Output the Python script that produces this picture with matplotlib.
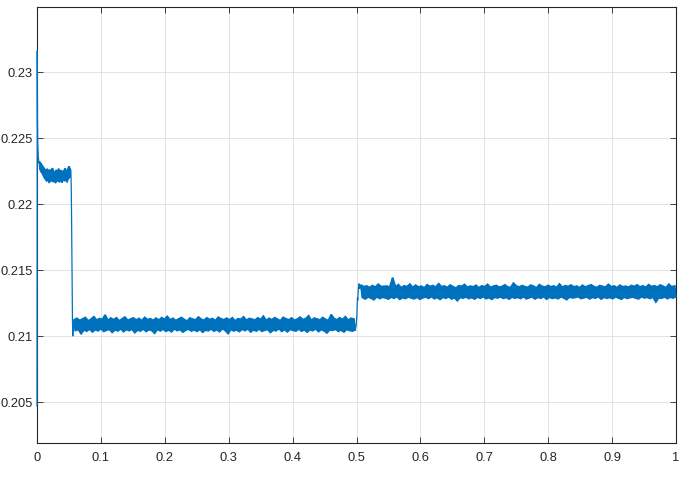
import numpy as np
import matplotlib
matplotlib.use("Agg")
import matplotlib.pyplot as plt

# ---------------- data (values in units of 1e-5) ----------------
t_start = [0.0, 0.0004, 0.0008, 0.0012, 0.0016, 0.0020, 0.0025, 0.0030]
y_start = [20470, 23160, 22620, 22460, 22400, 22360, 22330, 22310]

# first plateau, t = 0.004 .. 0.052 (alternating upper / lower noise extremes)
y_seg_a = [22318, 22262, 22305, 22241, 22290, 22228, 22276, 22205, 22262, 22190,
           22248, 22176, 22264, 22183, 22241, 22165, 22258, 22172, 22237, 22191,
           22270, 22168, 22245, 22182, 22231, 22160, 22252, 22189, 22240, 22174,
           22266, 22170, 22228, 22185, 22255, 22163, 22238, 22192, 22247, 22178,
           22269, 22181, 22236, 22170, 22258, 22195, 22283, 22201, 22262]

# drop near t = 0.055
t_drop = [0.0530, 0.0535, 0.0540, 0.0545, 0.0550, 0.0555, 0.0560, 0.0565, 0.0570]
y_drop = [22250, 22150, 21950, 21650, 21350, 21120, 21000, 21060, 21040]

# second plateau, t = 0.058 .. 0.498
y_seg_b = [21121, 21042, 21133, 21050, 21117, 21018, 21128, 21046, 21139, 21037,
           21114, 21053, 21126, 21031, 21145, 21048, 21119, 21040, 21131, 21056,
           21124, 21035, 21158, 21044, 21116, 21051, 21135, 21028, 21122, 21047,
           21137, 21039, 21113, 21055, 21129, 21033, 21142, 21049, 21118, 21041,
           21127, 21052, 21136, 21026, 21120, 21045, 21132, 21038, 21115, 21054,
           21140, 21034, 21123, 21048, 21130, 21043, 21117, 21021, 21134, 21050,
           21119, 21039, 21138, 21052, 21125, 21036, 21147, 21046, 21121, 21032,
           21133, 21055, 21116, 21041, 21128, 21049, 21139, 21030, 21124, 21044,
           21112, 21053, 21135, 21038, 21127, 21047, 21120, 21035, 21143, 21051,
           21126, 21029, 21118, 21045, 21136, 21040, 21123, 21054, 21131, 21037,
           21115, 21048, 21141, 21033, 21129, 21056, 21122, 21042, 21134, 21019,
           21120, 21050, 21137, 21039, 21113, 21046, 21130, 21034, 21125, 21052,
           21144, 21041, 21118, 21055, 21132, 21031, 21127, 21047, 21119, 21038,
           21136, 21053, 21124, 21036, 21149, 21044, 21116, 21050, 21133, 21027,
           21122, 21045, 21138, 21040, 21126, 21057, 21114, 21035, 21140, 21049,
           21129, 21032, 21121, 21051, 21135, 21043, 21118, 21038, 21127, 21054,
           21142, 21037, 21123, 21046, 21131, 21030, 21152, 21048, 21117, 21041,
           21134, 21055, 21128, 21034, 21120, 21049, 21139, 21039, 21125, 21024,
           21116, 21047, 21161, 21043, 21132, 21052, 21121, 21036, 21137, 21045,
           21124, 21031, 21145, 21050, 21119, 21042, 21133, 21038, 21128, 21046]

# step up near t = 0.5
t_rise = [0.4995, 0.5005, 0.5010, 0.5015, 0.5020, 0.5025, 0.5030, 0.5040, 0.5050, 0.5060]
y_rise = [21080, 21150, 21230, 21290, 21270, 21330, 21370, 21395, 21360, 21385]

# third plateau, t = 0.507 .. 1.0
y_seg_c = [21385, 21292, 21372, 21281, 21378, 21296, 21366, 21287, 21381, 21275,
           21369, 21298, 21391, 21284, 21374, 21293, 21375, 21289, 21377, 21280,
           21368, 21295, 21440, 21286, 21371, 21299, 21388, 21278, 21365, 21291,
           21379, 21284, 21373, 21297, 21392, 21288, 21367, 21282, 21384, 21294,
           21370, 21279, 21376, 21290, 21363, 21296, 21387, 21285, 21374, 21299,
           21381, 21283, 21369, 21292, 21395, 21277, 21372, 21294, 21378, 21286,
           21366, 21298, 21385, 21281, 21373, 21290, 21362, 21268, 21380, 21293,
           21375, 21287, 21389, 21296, 21368, 21284, 21377, 21292, 21371, 21280,
           21383, 21295, 21364, 21286, 21379, 21299, 21372, 21283, 21390, 21291,
           21367, 21278, 21376, 21294, 21382, 21288, 21369, 21297, 21374, 21285,
           21386, 21292, 21371, 21280, 21365, 21295, 21399, 21287, 21378, 21293,
           21370, 21284, 21381, 21298, 21373, 21282, 21367, 21290, 21384, 21296,
           21376, 21281, 21363, 21293, 21388, 21286, 21375, 21299, 21369, 21279,
           21382, 21294, 21372, 21285, 21378, 21291, 21366, 21283, 21393, 21297,
           21368, 21288, 21380, 21276, 21374, 21295, 21385, 21289, 21371, 21292,
           21377, 21298, 21364, 21284, 21383, 21290, 21370, 21296, 21379, 21282,
           21387, 21293, 21373, 21287, 21366, 21299, 21381, 21280, 21375, 21294,
           21369, 21286, 21390, 21292, 21372, 21283, 21378, 21297, 21365, 21288,
           21384, 21279, 21371, 21295, 21376, 21285, 21368, 21291, 21382, 21296,
           21374, 21287, 21386, 21282, 21370, 21298, 21379, 21289, 21367, 21293,
           21388, 21284, 21373, 21296, 21380, 21258, 21369, 21290, 21385, 21286,
           21376, 21297, 21364, 21283, 21391, 21294, 21372, 21288, 21378, 21300]

x_ticks = [0, 0.1, 0.2, 0.3, 0.4, 0.5, 0.6, 0.7, 0.8, 0.9, 1]
x_tick_labels = ["0", "0.1", "0.2", "0.3", "0.4", "0.5", "0.6", "0.7", "0.8", "0.9", "1"]
y_ticks = [0.205, 0.21, 0.215, 0.22, 0.225, 0.23]
y_tick_labels = ["0.205", "0.21", "0.215", "0.22", "0.225", "0.23"]

# ---------------- assemble ----------------
t_a = np.linspace(0.004, 0.052, len(y_seg_a))
t_b = np.linspace(0.058, 0.498, len(y_seg_b))
t_c = np.linspace(0.507, 1.0, len(y_seg_c))
y_a = np.array(y_seg_a) / 1e5
y_b = np.array(y_seg_b) / 1e5
y_c = np.array(y_seg_c) / 1e5

t = np.concatenate([t_start, t_a, t_drop, t_b, t_rise, t_c])
y = np.concatenate([np.array(y_start) / 1e5, y_a, np.array(y_drop) / 1e5,
                    y_b, np.array(y_rise) / 1e5, y_c])

# ---------------- plot ----------------
plt.rcParams['font.family'] = ['Liberation Sans', 'DejaVu Sans']
fig = plt.figure(figsize=(6.92, 4.89), dpi=100)
ax = fig.add_axes([37 / 692, 45 / 489, 639 / 692, 436 / 489])

color = '#0072BD'
# dense noise band: polygon through the upper and lower extremes
for ts, ys in ((t_a, y_a), (t_b, y_b), (t_c, y_c)):
    px = np.concatenate([ts[0::2], ts[1::2][::-1]])
    py = np.concatenate([ys[0::2], ys[1::2][::-1]])
    ax.fill(px, py, color=color, linewidth=1.4, joinstyle='miter', zorder=2)
ax.plot(t, y, color=color, linewidth=0.9, zorder=4, clip_on=False)

ax.set_xlim(0, 1)
ax.set_ylim(0.20189, 0.23492)
ax.set_xticks(x_ticks)
ax.set_xticklabels(x_tick_labels)
ax.set_yticks(y_ticks)
ax.set_yticklabels(y_tick_labels)

edge = '#262626'
for s in ax.spines.values():
    s.set_color(edge)
    s.set_linewidth(0.8)
ax.tick_params(direction='in', length=4, width=0.6, color=edge, labelcolor=edge,
               labelsize=9.3, top=True, right=True)
ax.tick_params(axis='x', pad=6)
ax.tick_params(axis='y', pad=3)
ax.grid(True, color='#dedede', linewidth=0.6)
ax.set_axisbelow(True)

fig.savefig('out.png', dpi=100)
